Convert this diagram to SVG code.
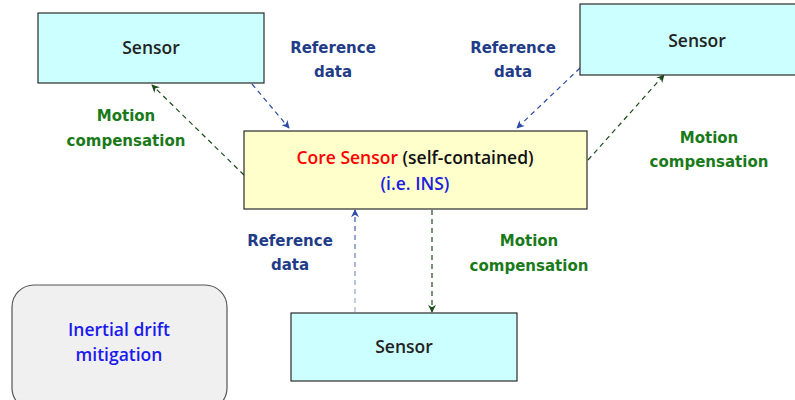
<svg xmlns="http://www.w3.org/2000/svg" width="795" height="400" viewBox="0 0 795 400">
  <style>
    .sensor { fill: #ccffff; stroke: #2a2a2a; stroke-width: 1.2; }
    .core { fill: #ffffcc; stroke: #2a2a2a; stroke-width: 1.2; }
    .note { fill: #f0f0f0; stroke: #555; stroke-width: 1.2; }
    .node-text { font-family: "Open Sans", "Liberation Sans", sans-serif; font-weight: 600; font-size: 17.5px; text-anchor: middle; }
    .lbl { font-family: "DejaVu Sans", "Liberation Sans", sans-serif; font-weight: bold; font-size: 15px; text-anchor: middle; }
    .ref { fill: #1f3c88; }
    .mot { fill: #1a7a1a; }
    .link { fill: none; stroke-width: 1.2; stroke-dasharray: 5 4; }
    .blue { stroke: #2b4aa8; }
    .green { stroke: #1e4a1e; }
  </style>
  <defs>
    <marker id="ahBlue" viewBox="0 0 10 10" refX="9" refY="5" markerWidth="8" markerHeight="8" orient="auto" markerUnits="userSpaceOnUse">
      <path d="M0,0 L10,5 L0,10 L3,5 Z" fill="#2b4aa8"/>
    </marker>
    <marker id="ahGreen" viewBox="0 0 10 10" refX="9" refY="5" markerWidth="8" markerHeight="8" orient="auto" markerUnits="userSpaceOnUse">
      <path d="M0,0 L10,5 L0,10 L3,5 Z" fill="#1e4a1e"/>
    </marker>
    <linearGradient id="fadeUp" gradientUnits="userSpaceOnUse" x1="0" y1="312" x2="0" y2="210">
      <stop offset="0" stop-color="#b0b8d0"/>
      <stop offset="1" stop-color="#2b4aa8"/>
    </linearGradient>
  </defs>

  <!-- connectors -->
  <g id="connectors">
    <line class="link blue" x1="252" y1="84" x2="289" y2="128" marker-end="url(#ahBlue)"/>
    <line class="link green" x1="244" y1="175" x2="152" y2="85" marker-end="url(#ahGreen)"/>
    <line class="link blue" x1="580" y1="68" x2="517" y2="128" marker-end="url(#ahBlue)"/>
    <line class="link green" x1="588" y1="160" x2="664" y2="75" marker-end="url(#ahGreen)"/>
    <line class="link" stroke="url(#fadeUp)" x1="355" y1="312" x2="355" y2="210" marker-end="url(#ahBlue)"/>
    <line class="link green" x1="432" y1="210" x2="432" y2="312" marker-end="url(#ahGreen)"/>
  </g>

  <!-- connector labels -->
  <g id="labels">
    <text class="lbl ref" x="333" y="53">Reference</text>
    <text class="lbl ref" x="333" y="77">data</text>
    <text class="lbl ref" x="513" y="53">Reference</text>
    <text class="lbl ref" x="513" y="77">data</text>
    <text class="lbl ref" x="290" y="246">Reference</text>
    <text class="lbl ref" x="290" y="270">data</text>
    <text class="lbl mot" x="126" y="121">Motion</text>
    <text class="lbl mot" x="126" y="146">compensation</text>
    <text class="lbl mot" x="709" y="143">Motion</text>
    <text class="lbl mot" x="709" y="167">compensation</text>
    <text class="lbl mot" x="529" y="246">Motion</text>
    <text class="lbl mot" x="529" y="271">compensation</text>
  </g>

  <g id="sensor-top-left">
    <rect class="sensor" x="38" y="13" width="226" height="70"/>
    <text class="node-text" x="151" y="54" fill="#222">Sensor</text>
  </g>

  <g id="sensor-top-right">
    <rect class="sensor" x="580" y="4" width="220" height="71"/>
    <text class="node-text" x="697" y="47" fill="#222">Sensor</text>
  </g>

  <g id="core-sensor">
    <rect class="core" x="244" y="131" width="343" height="78"/>
    <text class="node-text" x="415" y="164"><tspan fill="#ff0000">Core Sensor</tspan><tspan fill="#111"> (self-contained)</tspan></text>
    <text class="node-text" x="415" y="190" fill="#2020e0">(i.e. INS)</text>
  </g>

  <g id="sensor-bottom">
    <rect class="sensor" x="291" y="313" width="226" height="68"/>
    <text class="node-text" x="404" y="353" fill="#222">Sensor</text>
  </g>

  <g id="inertial-drift">
    <rect class="note" x="12" y="285" width="215" height="125" rx="22" ry="22"/>
    <text class="node-text" x="119" y="336" fill="#1a1aee">Inertial drift</text>
    <text class="node-text" x="119" y="361" fill="#1a1aee">mitigation</text>
  </g>
</svg>
